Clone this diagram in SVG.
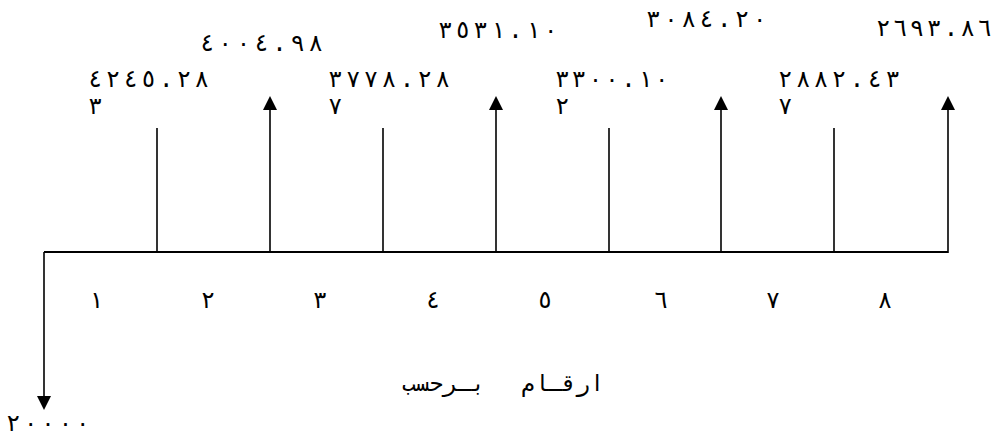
<svg xmlns="http://www.w3.org/2000/svg" width="1001" height="437" viewBox="0 0 1001 437">
<style>
.ln{stroke:#000;stroke-width:1.6;fill:none}
.ax{stroke:#000;stroke-width:2;fill:none}
.t{font-family:"DejaVu Sans Mono","Liberation Mono",monospace;font-size:24px;fill:#000}
.p{text-anchor:middle}
.c{font-size:23px}
</style>
<defs>
<marker id="ah" viewBox="0 0 14 14" markerWidth="14" markerHeight="14" refX="10" refY="7" orient="auto" markerUnits="userSpaceOnUse">
<path d="M0,0 L14,7 L0,14 z" fill="#000"/>
</marker>
</defs>
<rect width="1001" height="437" fill="#fff"/>
<g id="connectors">
<path class="ax" d="M44,252 L948,252"/>
<line class="ln" x1="44" y1="252" x2="44" y2="406" marker-end="url(#ah)"/>
<line class="ln" x1="157" y1="252" x2="157" y2="128"/>
<line class="ln" x1="270" y1="252" x2="270" y2="100" marker-end="url(#ah)"/>
<line class="ln" x1="383" y1="252" x2="383" y2="128"/>
<line class="ln" x1="496" y1="252" x2="496" y2="100" marker-end="url(#ah)"/>
<line class="ln" x1="609" y1="252" x2="609" y2="128"/>
<line class="ln" x1="721" y1="252" x2="721" y2="100" marker-end="url(#ah)"/>
<line class="ln" x1="834" y1="252" x2="834" y2="128"/>
<line class="ln" x1="948" y1="253" x2="948" y2="100" marker-end="url(#ah)"/>
</g>
<g id="values">
<text class="t" x="88" y="87" textLength="121" lengthAdjust="spacing">٤٢٤٥.٢٨</text>
<text class="t" x="88" y="114">٣</text>
<text class="t" x="200" y="51" textLength="123" lengthAdjust="spacing">٤٠٠٤.٩٨</text>
<text class="t" x="328" y="87" textLength="122" lengthAdjust="spacing">٣٧٧٨.٢٨</text>
<text class="t" x="328" y="114">٧</text>
<text class="t" x="438" y="38" textLength="120" lengthAdjust="spacing">٣٥٣١.١٠</text>
<text class="t" x="555" y="87" textLength="114" lengthAdjust="spacing">٣٣٠٠.١٠</text>
<text class="t" x="555" y="114">٢</text>
<text class="t" x="646" y="27" textLength="121" lengthAdjust="spacing">٣٠٨٤.٢٠</text>
<text class="t" x="778" y="87" textLength="122" lengthAdjust="spacing">٢٨٨٢.٤٣</text>
<text class="t" x="778" y="114">٧</text>
<text class="t" x="876" y="36" textLength="116" lengthAdjust="spacing">٢٦٩٣.٨٦</text>
<text class="t" x="6" y="431" textLength="84" lengthAdjust="spacing">٢٠٠٠٠</text>
</g>
<g id="periods">
<text class="t p" x="96" y="308">١</text>
<text class="t p" x="208" y="308">٢</text>
<text class="t p" x="320" y="308">٣</text>
<text class="t p" x="433" y="308">٤</text>
<text class="t p" x="545" y="308">٥</text>
<text class="t p" x="661" y="308">٦</text>
<text class="t p" x="773" y="308">٧</text>
<text class="t p" x="885" y="308">٨</text>
</g>
<g id="caption">
<text class="t c" x="604" y="391" direction="rtl" text-anchor="start">ارقـام</text>
<text class="t c" x="485" y="391" direction="rtl" text-anchor="start">بـرحسب</text>
</g>
</svg>
